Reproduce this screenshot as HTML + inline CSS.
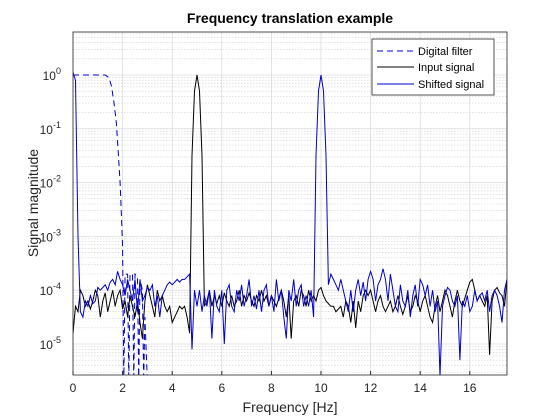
<!DOCTYPE html>
<html><head><meta charset="utf-8"><style>
html,body{margin:0;padding:0;background:#fff;width:560px;height:420px;overflow:hidden;font-family:"Liberation Sans",Arial,sans-serif}
svg{display:block;position:absolute;left:0;top:0}
svg text{font-family:"Liberation Sans",Arial,sans-serif}
</style></head><body>
<svg id="chart" width="560" height="420" viewBox="0 0 560 420" xmlns="http://www.w3.org/2000/svg">
<rect width="560" height="420" fill="#fff"/>
<text x="290" y="23" font-size="14" font-weight="bold" text-anchor="middle">Frequency translation example</text>
<defs><clipPath id="clip"><rect x="73" y="32" width="434" height="343"/></clipPath></defs>
<g id="grid"></g>
<g id="series" clip-path="url(#clip)"></g>
<rect x="73" y="32" width="434" height="343" fill="none" stroke="#262626" stroke-width="0.8"/>
<g id="ticks"></g>
<text x="290" y="412" font-size="14" text-anchor="middle" fill="#262626">Frequency [Hz]</text>
<text transform="translate(38,203) rotate(-90)" font-size="14" text-anchor="middle" fill="#262626">Signal magnitude</text>
<g>
<rect x="372" y="39" width="122" height="56" fill="#fff" stroke="#262626" stroke-width="0.8"/>
<line x1="377" y1="51" x2="414" y2="51" stroke="#0000cc" stroke-dasharray="6,4"/>
<text x="418" y="55" font-size="11">Digital filter</text>
<line x1="377" y1="67" x2="414" y2="67" stroke="#000"/>
<text x="418" y="71" font-size="11">Input signal</text>
<line x1="377" y1="84" x2="414" y2="84" stroke="#0000cc"/>
<text x="418" y="88" font-size="11">Shifted signal</text>
</g>
</svg>
<script>
const xTicks=[0,2,4,6,8,10,12,14,16];
const yDecades=[0,-1,-2,-3,-4,-5];
const inputExp=[-4.8,-4.3,-4.4,-4.0,-4.1,-4.3,-4.2,-4.35,-4.2,-4.0,-4.1,-4.5,-4.2,-4.05,-4.4,-4.2,-4.0,-4.3,-4.1,-4.0,-4.35,-4.2,-4.5,-4.1,-4.3,-4.5,-4.2,-4.6,-4.9,-4.2,-3.9,-4.1,-4.3,-4.5,-4.0,-4.2,-4.1,-4.3,-4.4,-4.3,-4.6,-4.5,-4.4,-4.3,-4.35,-4.3,-4.5,-4.8,-1.5,-0.3,0,-0.3,-1.5,-4.3,-4.2,-4.0,-4.3,-4.1,-4.25,-4.1,-4.3,-4.05,-4.2,-4.3,-4.1,-4.3,-4.2,-4.0,-4.3,-4.1,-4.2,-4.05,-4.2,-4.3,-4.1,-4.2,-4.0,-4.2,-4.1,-4.3,-4.1,-4.2,-4.3,-4.15,-4.0,-4.2,-4.5,-4.1,-4.9,-4.2,-4.1,-4.3,-4.0,-4.1,-4.3,-4.0,-4.2,-4.1,-4.2,-4.0,-3.95,-4.1,-4.2,-4.25,-4.3,-4.3,-4.4,-4.35,-4.3,-4.5,-4.2,-4.3,-4.6,-4.2,-4.7,-4.2,-4.4,-4.1,-4.0,-4.1,-4.0,-4.2,-4.4,-4.2,-4.1,-4.3,-4.4,-4.3,-4.2,-4.4,-4.3,-4.1,-4.3,-4.45,-4.3,-4.1,-4.4,-4.3,-4.1,-4.2,-4.4,-4.2,-4.1,-4.3,-4.5,-4.6,-4.3,-4.1,-4.4,-4.2,-4.0,-4.1,-4.3,-4.5,-4.2,-4.0,-4.2,-4.3,-4.15,-4.0,-3.85,-3.8,-4.0,-4.2,-4.1,-4.2,-4.3,-4.1,-5.2,-4.2,-4.0,-3.95,-4.05,-4.1,-4.3,-3.8];
const shiftedExp=[0.05,-0.1,-3.0,-4.4,-4.5,-4.2,-4.3,-4.1,-4.25,-4.2,-3.95,-4.0,-3.95,-3.9,-4.0,-3.85,-3.8,-3.9,-3.65,-3.8,-3.9,-4.1,-3.8,-4.0,-4.2,-3.8,-4.4,-3.8,-4.2,-4.1,-3.95,-4.0,-3.9,-4.3,-4.1,-4.5,-4.1,-4.0,-3.9,-3.85,-3.9,-3.85,-3.8,-3.85,-3.8,-3.8,-3.75,-3.7,-5.1,-4.0,-4.3,-4.0,-4.4,-4.1,-4.3,-4.0,-4.9,-4.0,-4.3,-4.4,-4.0,-5.0,-4.0,-3.9,-4.3,-4.4,-4.0,-4.2,-3.9,-4.3,-4.1,-3.8,-4.3,-4.1,-4.35,-4.0,-4.4,-4.0,-3.9,-4.3,-4.1,-4.4,-3.8,-4.2,-4.0,-4.5,-4.9,-4.0,-4.2,-3.8,-4.3,-4.0,-3.9,-4.3,-4.1,-4.3,-4.0,-4.5,-1.5,-0.3,0,-0.3,-1.5,-3.9,-3.7,-3.8,-3.9,-4.0,-3.8,-4.0,-4.2,-4.4,-4.0,-4.4,-4.0,-3.8,-4.1,-3.85,-4.2,-3.8,-3.65,-3.8,-4.2,-3.9,-3.8,-3.6,-3.8,-4.2,-3.7,-4.0,-4.3,-4.4,-3.9,-4.2,-4.3,-4.0,-4.5,-4.1,-3.9,-4.3,-3.8,-3.9,-4.1,-3.9,-4.3,-4.0,-4.4,-4.2,-5.6,-4.3,-4.1,-3.95,-4.0,-4.2,-4.3,-4.1,-5.3,-4.2,-4.3,-4.1,-4.4,-4.3,-4.0,-4.2,-4.1,-4.05,-4.2,-4.0,-4.4,-4.1,-4.0,-4.1,-4.3,-4.6,-4.0,-3.8];
const filterFreq=[0,1.3,1.45,1.55,1.65,1.75,1.82,1.9,1.95,2.0,2.05,2.1,2.2,2.25,2.3,2.4,2.45,2.5,2.6,2.65,2.7,2.8,2.85,2.9,3.0];
const filterExp=[0,0,-0.05,-0.2,-0.5,-0.9,-1.4,-2.0,-2.6,-3.2,-5.7,-3.7,-3.7,-5.7,-3.7,-3.7,-5.7,-3.7,-3.75,-5.7,-3.8,-4.0,-5.7,-4.5,-5.7];
const step=0.1;
const X=f=>73+f*(434/17.5);
const Y=e=>75-e*53.8;
const NS="http://www.w3.org/2000/svg";
function mk(tag,attrs,parent){const el=document.createElementNS(NS,tag);for(const k in attrs)el.setAttribute(k,attrs[k]);parent.appendChild(el);return el;}
const grid=document.getElementById('grid'),ticks=document.getElementById('ticks'),ser=document.getElementById('series');
xTicks.forEach(t=>{
  const l=mk('line',{x1:X(t),x2:X(t),y1:32,y2:375,stroke:'#dcdcdc','stroke-width':0.8},grid);
  
  
  const tk=mk('line',{x1:X(t),x2:X(t),y1:375,y2:371,stroke:'#262626'},ticks);
  
  
  const tx=mk('text',{x:X(t),y:392,'font-size':12,'text-anchor':'middle',fill:'#262626'},ticks);
  tx.textContent=t;
  
  
});
for(let d=1;d>=-6;d--){for(let m=2;m<=9;m++){const y=Y(d+Math.log10(m)-1);if(y<32||y>375)continue;
  const l=mk('line',{x1:73,x2:507,y1:y,y2:y,stroke:'#d0d0d0','stroke-width':0.6,'stroke-dasharray':'1.5,1.5'},grid);
  
  }}
yDecades.forEach(e=>{
  const l=mk('line',{x1:73,x2:507,y1:Y(e),y2:Y(e),stroke:'#dcdcdc','stroke-width':0.8},grid);
  
  
  const tx=mk('text',{x:61,y:Y(e)+5,'font-size':12,'text-anchor':'end',fill:'#262626'},ticks);
  tx.innerHTML='10<tspan dy="-6" font-size="9">'+e+'</tspan>';
  
  
});
function pts(fs,es){return es.map((e,i)=>X(fs?fs[i]:i*step).toFixed(1)+','+Y(e).toFixed(1)).join(' ');}
const f=mk('polyline',{points:pts(filterFreq,filterExp),fill:'none',stroke:'#0000cc','stroke-width':1,'stroke-dasharray':'6,4'},ser);


const inp=mk('polyline',{points:pts(null,inputExp),fill:'none',stroke:'#000','stroke-width':1},ser);


const sh=mk('polyline',{points:pts(null,shiftedExp),fill:'none',stroke:'#0000cc','stroke-width':1},ser);


</script>
</body></html>
